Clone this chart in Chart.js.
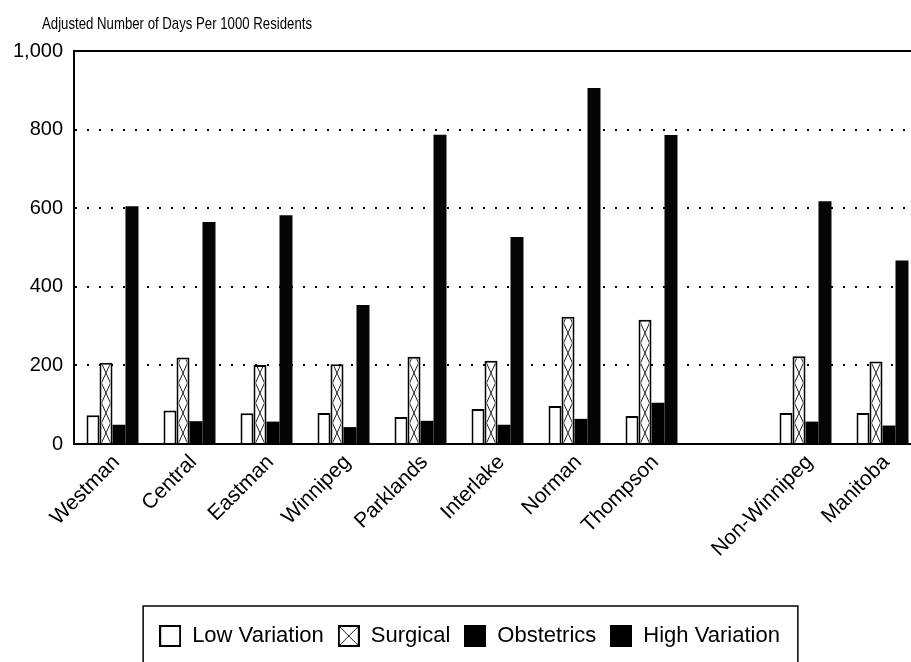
<!DOCTYPE html>
<html>
<head>
<meta charset="utf-8">
<script src="https://cdn.jsdelivr.net/npm/chart.js@4.4.1/dist/chart.umd.min.js"></script>
<style>
  html, body { margin: 0; padding: 0; background: #fff; overflow: hidden; }
  #wrap { position: relative; width: 925px; height: 662px; }
</style>
</head>
<body>
<div id="wrap"><canvas id="grafico"></canvas></div>
<script>
// datos
const regiones = ['Westman', 'Central', 'Eastman', 'Winnipeg', 'Parklands', 'Interlake', 'Norman', 'Thompson', '', 'Non-Winnipeg', 'Manitoba'];
const lowVariation = [73, 85, 78, 79, 69, 89, 97, 71, null, 79, 79];
const surgical = [207, 220, 201, 203, 222, 212, 324, 316, null, 223, 210];
const obstetrics = [49, 58, 57, 43, 59, 49, 64, 105, null, 57, 47];
const highVariation = [605, 565, 582, 354, 787, 527, 906, 786, null, 618, 467];
const yTicks = [0, 200, 400, 600, 800, 1000];
const titulo = 'Adjusted Number of Days Per 1000 Residents';

const fuente = "'Liberation Sans', Arial, Helvetica, sans-serif";

// iconos de la leyenda
function crearIcono(tipo) {
    const c = document.createElement('canvas');
    c.width = 22;
    c.height = 22;
    const g = c.getContext('2d');
    if (tipo === 'negro') {
        g.fillStyle = '#000';
        g.fillRect(0, 0, 22, 22);
        return c;
    }
    g.fillStyle = '#fff';
    g.fillRect(0, 0, 22, 22);
    if (tipo === 'cruz') {
        g.strokeStyle = '#222';
        g.lineWidth = 1;
        g.beginPath();
        g.moveTo(1, 1); g.lineTo(21, 21);
        g.moveTo(21, 1); g.lineTo(1, 21);
        g.stroke();
    }
    g.strokeStyle = '#000';
    g.lineWidth = 2;
    g.strokeRect(1, 1, 20, 20);
    return c;
}
const iconos = [crearIcono('blanco'), crearIcono('cruz'), crearIcono('negro'), crearIcono('negro')];

// titulo arriba a la izquierda (un poco condensado)
const pluginTitulo = {
    id: 'pluginTitulo',
    afterDraw(chart) {
        const ctx = chart.ctx;
        ctx.save();
        ctx.font = '17px ' + fuente;
        ctx.fillStyle = '#000';
        ctx.textBaseline = 'alphabetic';
        const ancho = ctx.measureText(titulo).width;
        ctx.translate(chart.chartArea.left - 32, 29);
        ctx.scale(270 / ancho, 1);
        ctx.fillText(titulo, 0, 0);
        ctx.restore();
    }
};

// mover la leyenda un poco a la derecha
const pluginLeyenda = {
    id: 'pluginLeyenda',
    afterLayout(chart) {
        chart.legend.left += 9;
        chart.legend.right += 9;
    }
};

// rayado en X de las barras Surgical
const pluginRayado = {
    id: 'pluginRayado',
    afterDatasetsDraw(chart) {
        const ctx = chart.ctx;
        const meta = chart.getDatasetMeta(1);
        ctx.save();
        ctx.strokeStyle = '#222';
        ctx.lineWidth = 1;
        meta.data.forEach(bar => {
            if (bar.skip || isNaN(bar.y)) return;
            const izq = bar.x - bar.width / 2 + 2;
            const der = bar.x + bar.width / 2 - 2;
            const arriba = bar.y + 2;
            const base = bar.base;
            ctx.save();
            ctx.beginPath();
            ctx.rect(izq, arriba, der - izq, base - arriba);
            ctx.clip();
            ctx.beginPath();
            for (let yb = base; yb > arriba - 20; yb -= 20) {
                ctx.moveTo(izq, yb); ctx.lineTo(der, yb - 20);
                ctx.moveTo(der, yb); ctx.lineTo(izq, yb - 20);
            }
            ctx.stroke();
            ctx.restore();
        });
        ctx.restore();
    }
};

// marco superior y recuadro de la leyenda
const pluginMarco = {
    id: 'pluginMarco',
    afterDraw(chart) {
        const ctx = chart.ctx;
        const a = chart.chartArea;
        ctx.save();
        ctx.strokeStyle = '#000';
        ctx.lineWidth = 2;
        ctx.beginPath();
        ctx.moveTo(a.left, a.top);
        ctx.lineTo(a.right, a.top);
        ctx.lineTo(a.right, a.bottom);
        ctx.stroke();

        const cajas = chart.legend.legendHitBoxes;
        if (cajas && cajas.length) {
            let x0 = Infinity, x1 = -Infinity, y0 = Infinity, y1 = -Infinity;
            cajas.forEach(b => {
                x0 = Math.min(x0, b.left);
                x1 = Math.max(x1, b.left + b.width);
                y0 = Math.min(y0, b.top);
                y1 = Math.max(y1, b.top + b.height);
            });
            ctx.lineWidth = 1.5;
            ctx.strokeRect(x0 - 16, y0 - 19, (x1 - x0) + 34, (y1 - y0) + 36);
        }
        ctx.restore();
    }
};

const ctx = document.getElementById('grafico').getContext('2d');
new Chart(ctx, {
    type: 'bar',
    data: {
        labels: regiones,
        datasets: [
            { label: 'Low Variation', data: lowVariation, backgroundColor: '#fff', borderColor: '#000', borderWidth: 2 },
            { label: 'Surgical', data: surgical, backgroundColor: '#fff', borderColor: '#000', borderWidth: 2 },
            { label: 'Obstetrics', data: obstetrics, backgroundColor: '#000', borderWidth: 0 },
            { label: 'High Variation', data: highVariation, backgroundColor: '#050505', borderWidth: 0 }
        ]
    },
    options: {
        responsive: true,
        maintainAspectRatio: false,
        animation: false,
        layout: {
            padding: { top: 51, left: 0, right: 4, bottom: 5 }
        },
        datasets: {
            bar: {
                categoryPercentage: 0.675,
                barPercentage: 1.0
            }
        },
        plugins: {
            title: { display: false },
            tooltip: { enabled: false },
            legend: {
                position: 'bottom',
                labels: {
                    usePointStyle: true,
                    padding: 14,
                    color: '#000',
                    font: { family: fuente, size: 22 },
                    generateLabels: function (chart) {
                        return chart.data.datasets.map((ds, i) => ({
                            text: ds.label,
                            pointStyle: iconos[i],
                            fillStyle: '#000',
                            strokeStyle: '#000',
                            lineWidth: 0,
                            hidden: false,
                            datasetIndex: i
                        }));
                    }
                }
            }
        },
        scales: {
            x: {
                grid: { display: false, drawTicks: false },
                border: { display: true, color: '#000', width: 2 },
                ticks: {
                    autoSkip: false,
                    maxRotation: 45,
                    minRotation: 45,
                    padding: 6,
                    labelOffset: 4,
                    color: '#000',
                    font: { family: fuente, size: 21 }
                },
                afterFit: function (scale) {
                    scale.height = 167;
                }
            },
            y: {
                min: 0,
                max: 1000,
                afterBuildTicks: function (scale) {
                    scale.ticks = yTicks.map(v => ({ value: v }));
                },
                grid: {
                    drawTicks: false,
                    lineWidth: 2,
                    color: c => (c.tick && (c.tick.value === 0 || c.tick.value === 1000)) ? 'rgba(0,0,0,0)' : '#000'
                },
                border: { display: true, color: '#000', width: 2, dash: [2, 10] },
                ticks: {
                    padding: 11,
                    color: '#000',
                    font: { family: fuente, size: 20 },
                    callback: v => v.toLocaleString('en-US')
                },
                afterFit: function (scale) {
                    scale.width = 74;
                }
            }
        }
    },
    plugins: [pluginLeyenda, pluginRayado, pluginMarco, pluginTitulo]
});
</script>
</body>
</html>
